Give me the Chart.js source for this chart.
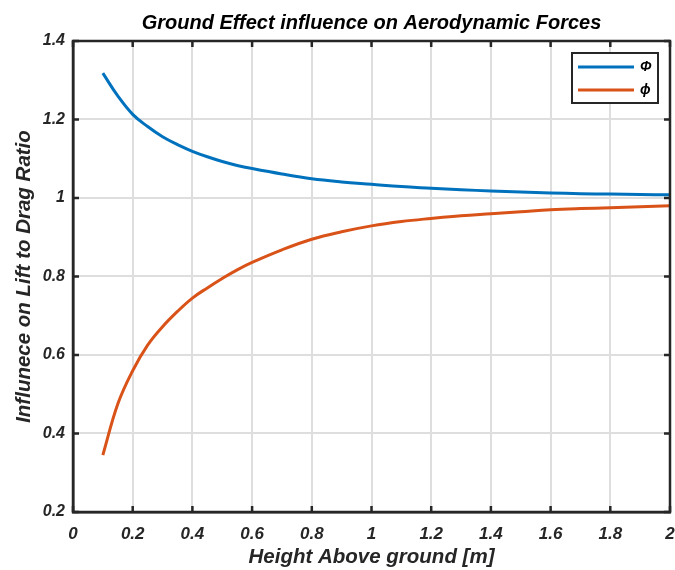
<!DOCTYPE html>
<html>
<head>
<meta charset="utf-8">
<script src="https://cdn.jsdelivr.net/npm/chart.js@4.4.1/dist/chart.umd.min.js"></script>
<style>
  html, body { margin: 0; padding: 0; background: #fff; }
  #wrap { width: 675px; height: 570px; }
</style>
</head>
<body>
<div id="wrap"><canvas id="chart" width="675" height="570"></canvas></div>
<script>
// Height above ground [m]
const heights = [0.1, 0.15, 0.2, 0.25, 0.3, 0.35, 0.4, 0.45, 0.5, 0.55, 0.6, 0.7, 0.8, 0.9, 1.0,
                 1.1, 1.2, 1.3, 1.4, 1.5, 1.6, 1.7, 1.8, 1.9, 2.0];
// Phi (upper curve, blue)
const bigPhi = [1.318, 1.260, 1.213, 1.182, 1.156, 1.136, 1.119, 1.105, 1.093, 1.083, 1.075, 1.061, 1.049, 1.041, 1.035,
                1.029, 1.025, 1.021, 1.018, 1.015, 1.013, 1.011, 1.010, 1.009, 1.008];
// phi (lower curve, orange)
const smallPhi = [0.345, 0.475, 0.560, 0.625, 0.672, 0.711, 0.745, 0.771, 0.795, 0.817, 0.836, 0.868, 0.895, 0.914, 0.929,
                  0.940, 0.948, 0.955, 0.960, 0.965, 0.970, 0.973, 0.975, 0.978, 0.980];
const seriesLabels = ["\u03A6", "\u03D5"];
const xTicks = [0, 0.2, 0.4, 0.6, 0.8, 1, 1.2, 1.4, 1.6, 1.8, 2];
const yTicks = [0.2, 0.4, 0.6, 0.8, 1, 1.2, 1.4];
const chartTitle = "Ground Effect influence on Aerodynamic Forces";

const axisColor = "#262626";
const fontFam = "'Liberation Sans', Arial, sans-serif";

// title centred over the plot box (not the whole canvas)
const boxTitle = {
  id: "boxTitle",
  afterDraw(chart) {
    const { ctx, chartArea: a } = chart;
    ctx.save();
    ctx.fillStyle = "#000";
    ctx.font = "italic bold 20px " + fontFam;
    ctx.textAlign = "center";
    ctx.textBaseline = "middle";
    ctx.fillText(chartTitle, (a.left + a.right) / 2, 23);
    ctx.restore();
  }
};

// frame with inward tick marks on all four sides
const framePlugin = {
  id: "frame",
  afterDatasetsDraw(chart) {
    const { ctx, chartArea: a, scales } = chart;
    ctx.save();
    ctx.strokeStyle = axisColor;
    ctx.lineWidth = 2.5;
    const tl = 6;
    ctx.beginPath();
    xTicks.forEach(v => {
      const px = scales.x.getPixelForValue(v);
      ctx.moveTo(px, a.bottom); ctx.lineTo(px, a.bottom - tl);
      ctx.moveTo(px, a.top); ctx.lineTo(px, a.top + tl);
    });
    yTicks.forEach(v => {
      const py = scales.y.getPixelForValue(v);
      ctx.moveTo(a.left, py); ctx.lineTo(a.left + tl, py);
      ctx.moveTo(a.right, py); ctx.lineTo(a.right - tl, py);
    });
    ctx.stroke();
    ctx.strokeRect(a.left, a.top, a.right - a.left, a.bottom - a.top);
    ctx.restore();
  }
};

// boxed legend in the top right corner of the plot
const boxLegend = {
  id: "boxLegend",
  afterDraw(chart) {
    const { ctx, chartArea: a } = chart;
    const w = 86, h = 50;
    const x0 = a.right - 12 - w, y0 = a.top + 12;
    ctx.save();
    ctx.fillStyle = "#fff";
    ctx.fillRect(x0, y0, w, h);
    ctx.strokeStyle = axisColor;
    ctx.lineWidth = 2;
    ctx.strokeRect(x0, y0, w, h);
    chart.data.datasets.forEach((ds, i) => {
      const y = y0 + 14 + i * 23;
      ctx.strokeStyle = ds.borderColor;
      ctx.lineWidth = 3;
      ctx.beginPath();
      ctx.moveTo(x0 + 6, y);
      ctx.lineTo(x0 + 62, y);
      ctx.stroke();
      ctx.fillStyle = "#000";
      ctx.font = "italic bold 14px " + fontFam;
      ctx.textBaseline = "middle";
      ctx.textAlign = "left";
      ctx.fillText(ds.label, x0 + 68, y);
    });
    ctx.restore();
  }
};

const toPts = ys => heights.map((h, i) => ({ x: h, y: ys[i] }));

new Chart(document.getElementById("chart"), {
  type: "line",
  data: {
    datasets: [
      {
        label: seriesLabels[0],
        data: toPts(bigPhi),
        borderColor: "#0072BD",
        borderWidth: 3,
        pointRadius: 0,
        tension: 0.4,
        fill: false
      },
      {
        label: seriesLabels[1],
        data: toPts(smallPhi),
        borderColor: "#D95319",
        borderWidth: 3,
        pointRadius: 0,
        tension: 0.4,
        fill: false
      }
    ]
  },
  options: {
    responsive: false,
    animation: false,
    layout: { padding: { left: 0, right: 5, top: 41, bottom: 0 } },
    plugins: {
      legend: { display: false },
      tooltip: { enabled: false },
      title: { display: false }
    },
    scales: {
      x: {
        type: "linear",
        min: 0,
        max: 2,
        afterBuildTicks: s => { s.ticks = xTicks.map(v => ({ value: v })); },
        afterFit: s => { s.height = 58; s.paddingRight = 0; s.paddingLeft = 0; },
        ticks: {
          color: axisColor,
          padding: 12,
          maxRotation: 0,
          font: { family: fontFam, size: 17, style: "italic", weight: "bold" },
          callback: v => String(+v.toFixed(1))
        },
        grid: { color: "#dedede", lineWidth: 2, drawTicks: false },
        border: { color: axisColor, width: 2.5 },
        title: {
          display: true,
          text: "Height Above ground [m]",
          color: axisColor,
          font: { family: fontFam, size: 20.5, style: "italic", weight: "bold", lineHeight: 1.2 },
          padding: { top: 0, bottom: 0 }
        }
      },
      y: {
        type: "linear",
        min: 0.2,
        max: 1.4,
        afterBuildTicks: s => { s.ticks = yTicks.map(v => ({ value: v })); },
        afterFit: s => { s.width = 73; s.paddingTop = 0; s.paddingBottom = 0; },
        ticks: {
          color: axisColor,
          padding: 8,
          font: { family: fontFam, size: 16, style: "italic", weight: "bold" },
          callback: v => String(+v.toFixed(1))
        },
        grid: { color: "#dedede", lineWidth: 2, drawTicks: false },
        border: { color: axisColor, width: 2.5 },
        title: {
          display: true,
          text: "Influnece on Lift to Drag Ratio",
          color: axisColor,
          font: { family: fontFam, size: 20.5, style: "italic", weight: "bold", lineHeight: 1.2 },
          padding: { top: 12, bottom: 12 }
        }
      }
    }
  },
  plugins: [boxTitle, framePlugin, boxLegend]
});
</script>
</body>
</html>
